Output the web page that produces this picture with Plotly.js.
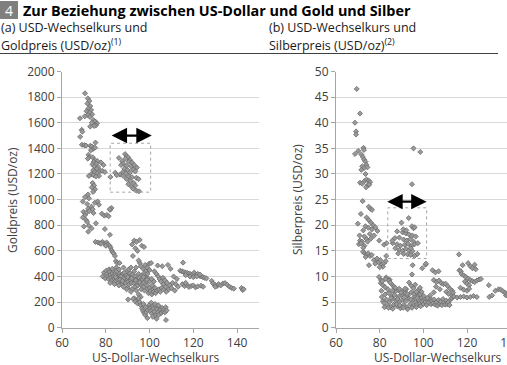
<!DOCTYPE html>
<html>
<head>
<meta charset="utf-8">
<script src="https://cdn.plot.ly/plotly-3.0.1.min.js"></script>
<style>
html,body{margin:0;padding:0;overflow:hidden;background:#fff;width:507px;height:365px;}
#chart{width:540px;height:365px;}
</style>
</head>
<body>
<div id="chart"></div>
<script>
// ---------- DATA ----------
// Gold: [USD exchange rate index, gold price USD/oz]
const goldPeak = [
[70.5,1830],[71.8,1790],[72.5,1770],[71.6,1750],[72.9,1730],[72.0,1710],[73.3,1700],[71.2,1690],[72.6,1680],[73.8,1665],
[71.9,1660],[70.4,1650],[72.8,1645],[68.2,1635],[74.4,1620],[75.2,1610],[73.6,1600],[76.0,1595],[75.5,1580],[74.7,1575],
[72.9,1570],[69.0,1545],[69.3,1530],[68.3,1490],[69.1,1428],[70.2,1425],[71.0,1422],[72.9,1420],[73.6,1415],[75.3,1445],
[74.2,1395],[75.1,1405],[73.2,1385],[72.1,1350],[72.4,1330],[71.8,1320],[74.0,1330],[75.0,1310],[74.5,1295],[76.2,1300],
[75.6,1280],[73.9,1275],[74.8,1260],[76.5,1255],[75.9,1240],[74.3,1230],[77.4,1225],[75.0,1215],[76.1,1205],[78.4,1225],
[79.6,1215],[77.8,1290],[79.0,1270],[73.4,1200],[74.4,1190],[72.3,1185],[76.9,1185],[75.5,1180],[74.0,1130],[74.7,1110],
[73.6,1095],[75.1,1080],[74.2,1060],[71.9,1040],[72.3,1010]
];
const goldBox = [
[86.0,1325],[87.5,1300],[88.8,1355],[89.5,1340],[90.2,1330],[89.0,1320],[91.0,1310],[90.5,1295],[92.0,1290],[88.0,1280],
[87.0,1270],[89.5,1265],[91.5,1260],[93.0,1270],[94.2,1250],[88.5,1240],[90.0,1230],[92.5,1235],[87.8,1215],[89.2,1205],
[91.0,1210],[93.5,1220],[86.5,1195],[88.0,1185],[90.5,1180],[92.0,1175],[94.0,1170],[95.0,1160],[89.5,1160],[91.2,1145],
[92.8,1130],[90.3,1120],[91.8,1100],[93.5,1110],[92.5,1085],[94.0,1070],[95.2,1065],[84.3,1210],[82.1,1177],[85.0,1190]
];
const goldMid = [
[69.5,985],[70.5,1020],[71.5,965],[72.0,930],[73.5,945],[74.0,925],[75.0,975],[76.3,985],[76.9,960],[69.8,905],
[70.6,880],[71.2,900],[72.4,910],[74.4,895],[69.5,860],[71.0,840],[70.0,790],[72.3,795],[72.0,750],[73.5,775],
[71.5,825],[75.5,815],[78.2,890],[79.3,875],[80.5,880],[81.3,870],[82.0,920],[82.6,935],[81.8,925],[79.6,770],
[81.9,725],[75.3,670],[76.5,665],[77.3,660],[78.5,670],[79.5,655],[80.4,665],[81.0,650],[81.7,640],[82.2,625],
[82.6,605],[83.1,590],[83.6,580],[84.2,560],[84.6,520],[85.2,505],[77.8,655],[80.0,640],[92.0,650],[93.0,680],
[94.0,670],[95.5,685],[96.5,640],[93.5,620],[94.5,600],[92.4,560],[97.5,630],[95.6,505],[95.0,525],[98.0,490],[99.0,470]
];
const goldCore = [
[78.6,400],[79.2,430],[79.8,385],[80.2,445],[80.5,420],[80.9,400],[81.2,380],[81.5,455],[81.8,435],[82.1,410],
[82.4,390],[82.7,370],[83.0,425],[83.3,445],[83.6,400],[83.9,380],[84.2,360],[84.5,415],[84.8,470],[85.1,395],
[85.4,375],[85.7,350],[86.0,430],[86.3,505],[86.6,405],[86.9,385],[87.2,360],[87.5,340],[87.8,420],[88.1,470],
[88.4,395],[88.7,375],[89.0,350],[89.3,410],[89.6,440],[89.9,380],[90.2,360],[90.5,335],[90.8,400],[91.1,425],
[91.4,370],[91.7,350],[92.0,395],[92.3,415],[92.6,375],[92.9,345],[93.2,320],[93.5,400],[93.8,470],[94.1,380],
[94.4,355],[94.7,330],[95.0,420],[95.3,390],[95.6,365],[95.9,340],[96.2,300],[96.5,410],[96.8,375],[97.1,350],
[97.4,320],[97.7,290],[98.0,400],[98.3,440],[98.6,360],[98.9,330],[99.2,300],[99.5,270],[99.8,500],[100.1,310],
[100.4,285],[100.7,505],[101.0,260],[101.3,330],[101.6,300],[101.9,280],[102.2,440],[102.5,310],[102.8,270],[103.1,420],
[103.4,290],[103.7,485],[104.0,400],[104.3,300],[104.6,380],[104.9,280],[105.2,360],[105.5,310],[105.8,480],[106.1,390],
[106.4,340],[106.7,300],[107.0,370],[107.3,320],[107.6,280],[108.0,350],[108.4,490],[108.8,300],[109.2,330],[109.6,460],
[110.0,310],[110.5,350],[111.0,400],[111.5,290],[112.0,340],[112.5,380],[113.0,320],
[82.0,350],[84.0,340],[86.0,330],[88.0,320],[90.0,310],[92.0,300],[94.0,290],[95.0,260],[96.0,240],[93.0,230],
[94.5,215],[91.5,280],[89.5,300],[87.0,400],[85.0,440],[83.0,460],[86.0,455],[88.5,430],[90.5,455],[91.5,470],
[93.0,440],[97.0,460],[96.0,480],[97.5,420],[99.0,390],[100.0,360],[99.0,420],[101.0,380],[100.0,450],[102.0,360],
[84.5,395],[86.5,375],[88.2,385],[90.0,395],[91.8,385],[93.6,370],[95.4,355],[97.2,395],[98.8,375],[87.6,365]
];
const goldLow = [
[90.2,220],[92.5,225],[93.5,205],[94.5,190],[95.5,200],[96.0,175],[96.5,150],[97.0,130],[97.5,115],[98.0,100],
[98.5,120],[99.0,140],[99.5,165],[100.0,180],[100.3,150],[100.6,130],[101.0,110],[101.4,170],[101.8,150],[102.2,125],
[102.6,95],[103.0,165],[103.4,145],[103.8,120],[104.2,100],[104.6,160],[105.0,140],[105.4,115],[105.8,155],[106.2,130],
[106.6,145],[107.0,120],[107.4,160],[107.8,135],[99.0,75],[101.5,85],[103.2,70],[107.5,60],[98.2,160],[100.8,195],
[102.5,185],[104.0,175],[97.2,185],[95.0,230]
];
const goldTail = [
[115.3,508],[114.0,445],[114.8,440],[115.6,435],[116.4,430],[117.2,428],[118.0,422],[118.8,418],[119.6,412],[120.4,430],
[121.2,410],[122.0,420],[122.8,405],[123.6,400],[124.4,395],[125.2,390],[126.0,385],[118.5,400],[120.0,395],[121.5,400],
[123.0,415],[116.5,410],[115.0,340],[116.0,325],[117.0,335],[118.0,318],[119.0,325],[120.0,330],[121.0,315],[122.0,322],
[123.5,328],[124.5,320],[116.5,350],[128.4,365],[129.0,345],[130.0,335],[130.8,325],[131.5,340],[132.5,330],[133.5,345],
[134.5,348],[135.5,335],[136.5,320],[137.5,310],[138.5,305],[130.0,320],[142.0,310],[142.5,295],[143.0,300]
];

// Silver: [USD exchange rate index, silver price USD/oz]
const silverPeak = [
[69.5,46.6],[71.0,41.8],[68.7,40.0],[69.2,38.3],[69.2,37.7],[72.6,35.1],[72.8,34.7],[68.7,33.9],[70.2,34.5],[71.6,33.8],
[72.3,33.3],[72.9,32.8],[73.5,32.4],[73.9,31.8],[72.0,31.5],[73.0,31.2],[71.6,30.8],[74.4,31.3],[73.5,30.0],[71.0,28.3],
[72.0,28.1],[73.0,28.6],[74.0,28.9],[75.0,28.7],[75.6,28.4],[74.5,27.8],[73.8,27.4],[75.2,27.9],[72.2,24.7],[75.0,23.6],
[75.8,23.2],[76.5,23.0],[95.5,35.0],[98.6,34.3],[94.8,28.0]
];
const silverMid = [
[71.4,22.2],[74.0,21.5],[75.0,21.0],[76.0,20.5],[77.0,20.0],[73.5,19.8],[74.8,19.5],[76.5,19.2],[78.0,19.6],[79.0,18.9],
[70.0,20.3],[72.5,19.0],[75.5,18.3],[77.5,18.0],[73.0,17.8],[74.0,17.3],[71.0,17.0],[72.0,16.8],[70.5,16.3],[71.5,16.5],
[73.0,16.0],[74.5,16.8],[76.0,17.4],[72.5,15.6],[70.8,18.0],[72.4,14.8],[73.2,14.5],[74.0,14.3],[74.8,14.5],[75.6,14.0],
[76.4,14.2],[73.6,13.8],[75.1,12.2],[77.4,13.2],[78.0,12.5],[78.8,13.5],[79.5,12.8],[80.3,13.2],[81.0,12.3],[81.5,11.9],
[82.0,12.6],[82.8,13.0],[80.0,11.8],[83.0,14.0],[80.6,9.3],[83.0,9.8],[84.5,9.4],[82.0,16.2],[83.2,16.5],[79.8,17.0]
];
const silverBox = [
[93.3,21.4],[90.0,20.5],[94.8,19.8],[95.5,19.4],[96.0,19.6],[88.0,18.8],[90.5,18.6],[92.0,18.4],[93.5,18.2],[95.0,18.0],
[96.5,17.8],[87.0,17.5],[89.0,17.6],[91.0,17.2],[92.5,17.0],[94.0,17.3],[95.5,16.8],[86.0,16.5],[88.0,16.3],[89.5,16.0],
[91.5,16.2],[93.0,16.4],[94.5,15.9],[96.0,16.3],[97.5,16.5],[87.2,15.5],[89.0,15.2],[90.5,15.0],[92.0,15.4],[93.5,15.1],
[95.0,14.9],[88.5,14.5],[91.0,14.4],[92.8,14.3],[94.2,14.2],[96.0,14.0],[97.3,14.4],[85.8,17.0],[90.8,19.2],[92.2,19.0],
[94.3,15.5],[95.1,12.2],[99.5,11.6],[101.0,12.3],[94.8,10.4],[104.2,11.2]
];
const silverCore = [
[79.7,9.9],[80.5,8.7],[81.5,8.3],[82.5,7.9],[84.3,9.2],[85.5,8.5],[86.5,8.0],[93.5,8.8],[94.5,8.2],[95.5,7.7],
[96.3,8.4],[97.5,7.2],[98.5,7.8],[92.2,7.5],[90.5,7.0],[88.5,7.3],[81.0,6.0],[81.5,5.2],[82.0,4.8],[82.5,6.5],
[83.0,5.5],[83.5,4.3],[84.0,6.8],[84.5,5.0],[85.0,4.0],[85.5,6.2],[86.0,5.6],[86.5,4.5],[87.0,7.0],[87.5,5.3],
[88.0,4.2],[88.5,6.0],[89.0,5.0],[89.5,3.8],[90.0,6.5],[90.5,5.5],[91.0,4.4],[91.5,6.8],[92.0,5.2],[92.5,4.0],
[93.0,6.3],[93.5,5.7],[94.0,4.6],[94.5,6.9],[95.0,5.4],[95.5,4.3],[96.0,6.1],[96.5,5.0],[97.0,4.5],[97.5,6.4],
[98.0,5.3],[98.5,4.8],[99.0,5.9],[99.5,5.1],[100.0,4.6],[100.5,5.6],[101.0,5.0],[101.5,4.4],[102.0,5.4],[102.5,4.9],
[103.0,5.8],[103.5,4.6],[104.0,5.2],[104.5,4.8],[105.0,5.5],[105.5,4.5],[106.0,5.0],[106.5,4.3],[107.0,5.4],[107.5,4.7],
[108.0,5.1],[108.5,4.4],[109.0,5.6],[109.5,4.9],[110.0,4.5],[110.5,5.3],[111.0,4.6],[111.5,5.0],[112.0,4.4],[112.5,5.5],
[113.0,5.8],[113.5,6.2],[82.2,4.0],[84.0,3.9],[86.0,3.7],[87.8,4.6],[89.2,4.4],[90.8,3.9],[92.8,3.6],[94.8,3.9],
[96.8,4.0],[98.8,4.2],[85.2,5.8],[86.8,6.4],[88.2,5.6],[89.8,6.9],[91.2,5.9],[92.6,6.6],[94.2,5.5],[95.8,6.6],
[97.2,5.8],[98.6,6.5],[100.2,6.2],[101.8,5.8],[103.2,6.3],[83.8,7.5],[85.8,7.2],[87.2,7.8],[89.0,7.6],[91.6,7.6],
[96.8,7.0],[99.2,7.0],[82.8,9.5],[84.8,8.8],[80.8,7.2],[81.2,9.1],[101.2,12.5],[104.8,9.3],[105.5,10.8],[107.0,11.0],
[106.0,8.9],[107.2,9.2],[108.2,8.7],[109.2,8.5],[110.2,8.6],[111.2,8.1],[112.2,7.6],[113.2,7.2],[107.6,7.5],[110.5,7.0],
[105.8,8.0],[104.8,6.9],[111.6,6.6],[113.6,6.8]
];
const silverTail = [
[116.3,14.3],[118.0,12.2],[116.5,11.2],[117.2,11.0],[120.5,12.6],[121.5,12.0],[122.5,11.6],[123.5,12.3],[124.0,11.4],[117.5,10.5],
[118.5,10.2],[119.5,9.9],[120.5,9.6],[121.5,9.3],[122.5,9.1],[123.5,8.9],[124.5,9.2],[125.5,9.4],[126.4,9.5],[119.0,9.0],
[120.0,8.6],[121.0,8.3],[117.0,7.8],[118.5,7.4],[120.0,7.2],[121.0,7.6],[114.0,6.1],[115.5,5.9],[117.0,6.0],[118.5,6.1],
[120.0,5.9],[121.5,6.0],[123.0,6.2],[124.5,6.0],[130.0,8.3],[130.2,6.0],[131.5,6.3],[133.0,7.2],[134.5,7.5],[135.5,7.4],
[136.5,7.1],[137.5,6.8],[137.8,6.3],[138.5,6.5]
];

const goldTicks = [0,200,400,600,800,1000,1200,1400,1600,1800,2000];
const silverTicks = [0,5,10,15,20,25,30,35,40,45,50];
const xTicks = [60,80,100,120,140];

// ---------- BUILD ----------
const W = 540, H = 365;
const px = v => v / W;
const py = v => 1 - v / H;

const gold = [].concat(goldPeak, goldBox, goldMid, goldCore, goldLow, goldTail);
const silver = [].concat(silverPeak, silverMid, silverBox, silverCore, silverTail);

const marker = {symbol:'diamond', size:3.9, color:'#9a9a9a', line:{color:'#6a6a6a', width:0.8}};
const traces = [
  {type:'scatter', mode:'markers', x:gold.map(p=>p[0]), y:gold.map(p=>p[1]), xaxis:'x', yaxis:'y', marker:marker, hoverinfo:'x+y'},
  {type:'scatter', mode:'markers', x:silver.map(p=>p[0]), y:silver.map(p=>p[1]), xaxis:'x2', yaxis:'y2', marker:marker, hoverinfo:'x+y'}
];

const font = 'Open Sans, Noto Sans, sans-serif';
const tickFont = {family:font, size:12, color:'#404040'};
const yDom = [(H-327.7)/H, (H-71.5)/H];
const xAx = (dom, anchor) => ({domain:dom, anchor:anchor, range:[60,150], tickvals:xTicks, showgrid:false, zeroline:false,
  showline:true, linecolor:'#a6a6a6', linewidth:1, ticks:'outside', ticklen:4, tickcolor:'#a6a6a6', tickfont:tickFont, fixedrange:true});
const yAx = (anchor, range, tv) => ({domain:yDom, anchor:anchor, range:range, tickvals:tv, showgrid:true, gridcolor:'#d9d9d9', gridwidth:1,
  zeroline:false, showline:true, linecolor:'#a6a6a6', linewidth:1, ticks:'outside', ticklen:4, tickcolor:'#a6a6a6', tickfont:tickFont, fixedrange:true});

const ann = (text, x, y, opts) => Object.assign({text:text, x:px(x), y:py(y), xref:'paper', yref:'paper', showarrow:false,
  xanchor:'left', yanchor:'middle', font:{family:font, size:12.5, color:'#1a1a1a'}}, opts||{});

const annotations = [
  ann('4', 9, 10, {xanchor:'center', font:{family:font, size:14, color:'#ffffff'}}),
  ann('<b>Zur Beziehung zwischen US-Dollar und Gold und Silber</b>', 21, 10, {font:{family:font, size:14.4, color:'#000000'}}),
  ann('(a) USD-Wechselkurs und', -1, 27),
  ann('Goldpreis (USD/oz)<sup>(1)</sup>', -1, 45),
  ann('(b) USD-Wechselkurs und', 267, 27),
  ann('Silberpreis (USD/oz)<sup>(2)</sup>', 267, 45),
  ann('Goldpreis (USD/oz)', 12, 200, {xanchor:'center', textangle:-90, font:{family:font, size:12, color:'#404040'}}),
  ann('Silberpreis (USD/oz)', 297, 200, {xanchor:'center', textangle:-90, font:{family:font, size:12, color:'#404040'}}),
  ann('US-Dollar-Wechselkurs', 156, 357.5, {xanchor:'center', font:{family:font, size:12, color:'#404040'}}),
  ann('US-Dollar-Wechselkurs', 438, 357.5, {xanchor:'center', font:{family:font, size:12, color:'#404040'}}),
  {x:101, y:1500, ax:82, ay:1500, xref:'x', yref:'y', axref:'x', ayref:'y', text:'', showarrow:true, arrowside:'end+start',
   arrowhead:2, arrowsize:1.4, arrowwidth:2.2, arrowcolor:'#000000'},
  {x:101.5, y:24.6, ax:82.8, ay:24.6, xref:'x2', yref:'y2', axref:'x2', ayref:'y2', text:'', showarrow:true, arrowside:'end+start',
   arrowhead:2, arrowsize:1.4, arrowwidth:2.2, arrowcolor:'#000000'}
];

const shapes = [
  {type:'rect', xref:'paper', yref:'paper', x0:0, x1:px(18), y0:py(19), y1:py(1), fillcolor:'#7f7f7f', line:{width:0}},
  {type:'line', xref:'paper', yref:'paper', x0:0, x1:px(498), y0:py(53.5), y1:py(53.5), line:{color:'#404040', width:1}},
  {type:'rect', xref:'x', yref:'y', x0:82, x1:100.5, y0:1058, y1:1440, line:{color:'#a6a6a6', width:1, dash:'dot'}},
  {type:'rect', xref:'x2', yref:'y2', x0:83.7, x1:101.5, y0:13.5, y1:23.4, line:{color:'#a6a6a6', width:1, dash:'dot'}}
];

const layout = {
  width:W, height:H, margin:{l:0, r:0, t:0, b:0}, paper_bgcolor:'#ffffff', plot_bgcolor:'#ffffff',
  showlegend:false, font:{family:font},
  xaxis: xAx([px(62), px(259)], 'y'),
  yaxis: yAx('x', [0,2000], goldTicks),
  xaxis2: xAx([px(336), px(532.5)], 'y2'),
  yaxis2: yAx('x2', [0,50], silverTicks),
  annotations: annotations, shapes: shapes
};

Plotly.newPlot('chart', traces, layout, {displayModeBar:false, staticPlot:true});
</script>
</body>
</html>
